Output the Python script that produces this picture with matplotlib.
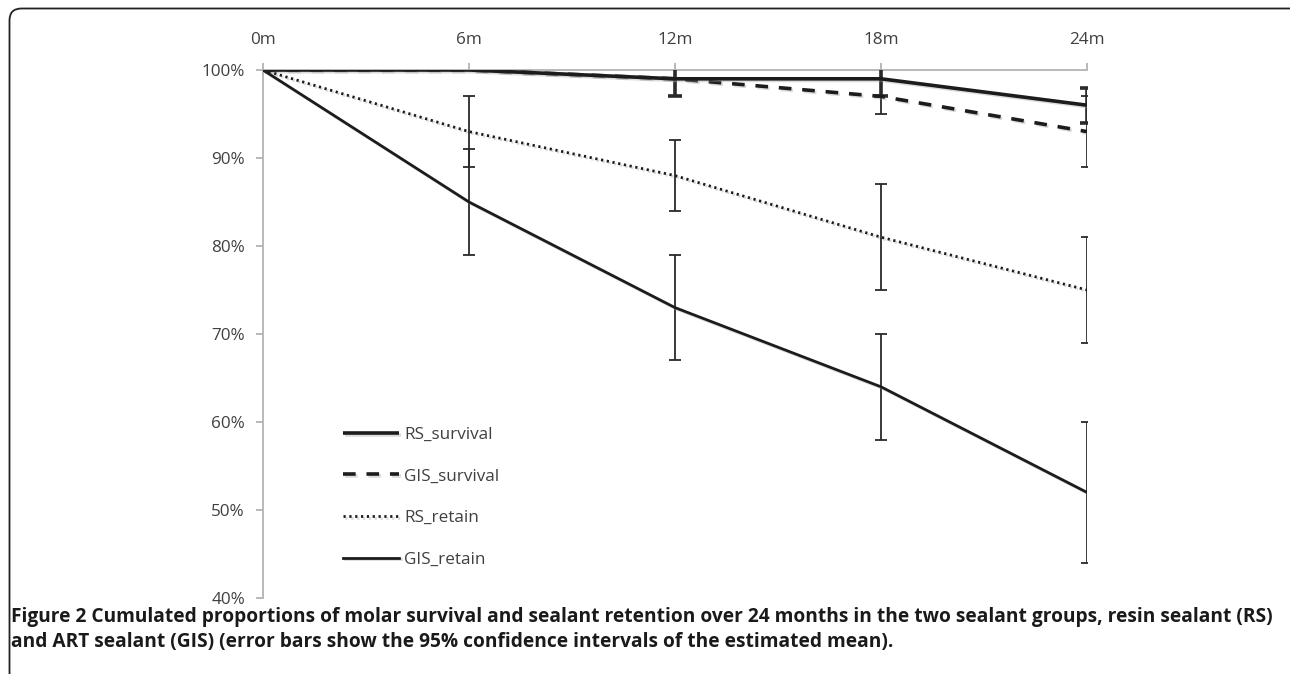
import numpy as np
import matplotlib
matplotlib.use("Agg")
import matplotlib.pyplot as plt
import matplotlib.patheffects as pe
from matplotlib.patches import FancyBboxPatch
from matplotlib.transforms import IdentityTransform

# ---- data ----
months = [0, 6, 12, 18, 24]
month_labels = ["0m", "6m", "12m", "18m", "24m"]

rs_survival = [100, 100, 99, 99, 96]
rs_survival_lo = [np.nan, np.nan, 97, 97, 94]
rs_survival_hi = [np.nan, np.nan, 101, 101, 98]

gis_survival = [100, 100, 99, 97, 93]
gis_survival_lo = [np.nan, np.nan, 97, 95, 89]
gis_survival_hi = [np.nan, np.nan, 101, 99, 97]

rs_retain = [100, 93, 88, 81, 75]
rs_retain_lo = [np.nan, 89, 84, 75, 69]
rs_retain_hi = [np.nan, 97, 92, 87, 81]

gis_retain = [100, 85, 73, 64, 52]
gis_retain_lo = [np.nan, 79, 67, 58, 44]
gis_retain_hi = [np.nan, 91, 79, 70, 60]

y_ticks = [40, 50, 60, 70, 80, 90, 100]

caption_bold = ("Figure 2 Cumulated proportions of molar survival and sealant retention over 24 months in the two sealant groups, resin sealant (RS)\n"
                "and ART sealant (GIS) (error bars show the 95% confidence intervals of the estimated mean).")

plt.rcParams['font.family'] = ['Open Sans', 'DejaVu Sans']

W, H = 1290, 674
fig = plt.figure(figsize=(W / 100, H / 100), dpi=100)
ax = fig.add_axes([263 / W, 1 - 598 / H, (1087 - 263) / W, (598 - 70) / H])

line_col = '#1c1c1c'
shadow = [pe.SimpleLineShadow(offset=(1.2, -1.2), shadow_color='#9a9a9a', alpha=0.35), pe.Normal()]


def draw_err(y, lo, hi, lw, cs):
    x = np.array(months, dtype=float)
    y = np.array(y, dtype=float)
    lo = np.array(lo, dtype=float)
    hi = np.array(hi, dtype=float)
    m = ~np.isnan(lo)
    ax.errorbar(x[m], y[m], yerr=[y[m] - lo[m], hi[m] - y[m]], fmt='none',
                ecolor='#2a2a2a', elinewidth=lw, capsize=cs, capthick=lw, zorder=4)


# error bars
draw_err(gis_retain, gis_retain_lo, gis_retain_hi, 1.3, 4)
draw_err(rs_retain, rs_retain_lo, rs_retain_hi, 1.3, 4)
draw_err(gis_survival, gis_survival_lo, gis_survival_hi, 1.3, 4)
draw_err(rs_survival, rs_survival_lo, rs_survival_hi, 2.6, 5)

# lines
l2, = ax.plot(months, gis_survival, color=line_col, lw=2.6, ls=(0, (3.5, 3)), label='GIS_survival', zorder=5,
              path_effects=shadow)
l1, = ax.plot(months, rs_survival, color=line_col, lw=2.6, label='RS_survival', zorder=5,
              path_effects=shadow, solid_capstyle='butt')
l3, = ax.plot(months, rs_retain, color=line_col, lw=2.0, ls=(0, (0.8, 1.3)), label='RS_retain', zorder=5,
              path_effects=shadow)
l4, = ax.plot(months, gis_retain, color=line_col, lw=2.0, label='GIS_retain', zorder=5,
              path_effects=shadow)

ax.set_xlim(0, 24)
ax.set_ylim(40, 100)
ax.set_xticks(months)
ax.set_xticklabels(month_labels)
ax.set_yticks(y_ticks)
ax.set_yticklabels([f"{v}%" for v in y_ticks])
ax.xaxis.tick_top()

spine_col = '#b3b3b3'
for s in ['right', 'bottom']:
    ax.spines[s].set_visible(False)
for s in ['top', 'left']:
    ax.spines[s].set_color(spine_col)
    ax.spines[s].set_linewidth(1.3)
ax.tick_params(axis='both', colors=spine_col, width=1.3, length=5, direction='out',
               labelcolor='#404040', labelsize=12.3)
ax.tick_params(axis='x', pad=11)
ax.tick_params(axis='y', pad=8)
ax.patch.set_visible(False)

# legend
leg = ax.legend(handles=[l1, l2, l3, l4], loc='upper left',
                bbox_to_anchor=((336 - 263) / (1087 - 263), (598 - 420) / (598 - 70)),
                frameon=False, fontsize=12.3, handlelength=3.3, handletextpad=0.3,
                labelspacing=1.5, borderaxespad=0)
for t in leg.get_texts():
    t.set_color('#404040')

# caption
fig.text(11 / W, 1 - 607 / H, caption_bold, ha='left', va='top', fontsize=13.8,
         fontweight='bold', color='#1a1a1a', linespacing=1.35)

# rounded border
border = FancyBboxPatch((9.5, -30), 1400, (H - 8.5) + 30,
                        boxstyle='round,pad=0,rounding_size=12',
                        transform=IdentityTransform(), fill=False, edgecolor='#222222', lw=1.3)
fig.patches.append(border)

fig.savefig('out.png', dpi=100)
